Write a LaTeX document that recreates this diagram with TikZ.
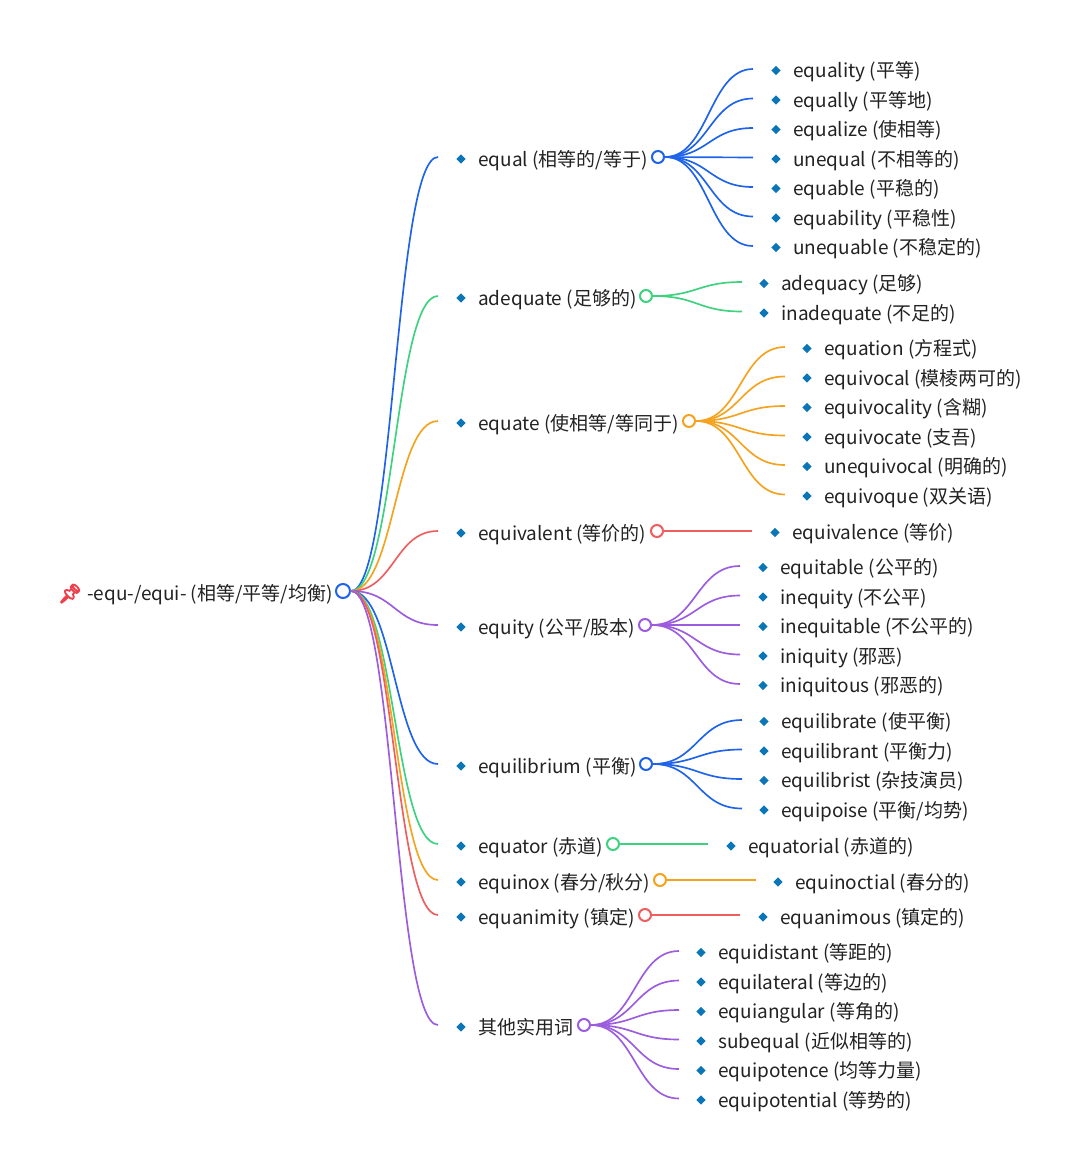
\documentclass[tikz,border=0pt]{standalone}
\usepackage{fontspec}
\setmainfont{Noto Sans CJK SC}
\newfontfamily\emojifont[FakeBold=6]{Noto Emoji}
\usetikzlibrary{calc,shapes.geometric}
\definecolor{linkblue}{HTML}{1E63E9}
\definecolor{linkgreen}{HTML}{3DD27F}
\definecolor{linkorange}{HTML}{F5A31F}
\definecolor{linkred}{HTML}{EE5E5E}
\definecolor{linkpurple}{HTML}{9C5CDF}
\definecolor{bulletblue}{HTML}{0A76B8}
\definecolor{wordgray}{HTML}{222222}
\definecolor{pinred}{HTML}{EE3F4C}
\tikzset{
  link/.style={line width=1.25pt,to path={let \p1=(\tikztostart), \p2=(\tikztotarget),
    \p3=($(\tikztostart)!0.5!(\tikztotarget)$) in
    .. controls (\x3,\y1) and (\x3,\y2) .. (\tikztotarget)}},
  hub/.style={circle,draw,fill=white,line width=1.5pt,minimum size=9pt,inner sep=0pt},
  bullet/.style={diamond,fill=bulletblue,minimum size=7pt,inner sep=0pt},
  word/.style={anchor=base west,inner sep=0pt,text=wordgray,font=\fontsize{14.25}{17}\selectfont}
}

\begin{document}
\begin{tikzpicture}[x=0.75pt,y=-0.75pt]
  \useasboundingbox (0,0) rectangle (1080,1168);
  % root
  \node[word,text=pinred,font=\emojifont\fontsize{14}{17}\selectfont] (pin) at (58,600) {📌};
  \node[word] (roottext) at (87,600) {-equ-/equi- (相等/平等/均衡)};
  \node[hub,draw=linkblue,minimum size=10.5pt] (root) at (343,591) {};
  % first level
  \foreach \name/\col/\ly/\cx/\word in {
    equal/linkblue/157/658/{equal (相等的/等于)},
    adequate/linkgreen/296/646/{adequate (足够的)},
    equate/linkorange/421/689/{equate (使相等/等同于)},
    equivalent/linkred/531/657/{equivalent (等价的)},
    equity/linkpurple/625/645/{equity (公平/股本)},
    equilibrium/linkblue/764/646/{equilibrium (平衡)},
    equator/linkgreen/844/613/{equator (赤道)},
    equinox/linkorange/880/660/{equinox (春分/秋分)},
    equanimity/linkred/915/645/{equanimity (镇定)},
    other/linkpurple/1025/584/{其他实用词}} {
    \coordinate (\name-end) at (438,\ly);
    \draw[link,\col] (root.east) to (\name-end);
    \node[bullet] (\name-bullet) at (461,\ly+2) {};
    \node[word] (\name-text) at (478,\ly+9) {\word};
    \node[hub,draw=\col] (\name) at (\cx,\ly) {};
  }
  % leaves of equal
  \foreach \i/\ly/\word in {1/69/{equality (平等)},2/98.5/{equally (平等地)},3/128/{equalize (使相等)},
    4/157.5/{unequal (不相等的)},5/187/{equable (平稳的)},6/216.5/{equability (平稳性)},7/246/{unequable (不稳定的)}} {
    \coordinate (equal-\i) at (753,\ly);
    \draw[link,linkblue] (equal.east) to (equal-\i);
    \node[bullet] (equal-\i-bullet) at (776,\ly+1.5) {};
    \node[word] (equal-\i-text) at (793,\ly+8.5) {\word};
  }
  % leaves of adequate
  \foreach \i/\ly/\word in {1/282/{adequacy (足够)},2/311.5/{inadequate (不足的)}} {
    \coordinate (adequate-\i) at (742,\ly);
    \draw[link,linkgreen] (adequate.east) to (adequate-\i);
    \node[bullet] (adequate-\i-bullet) at (764,\ly+1.5) {};
    \node[word] (adequate-\i-text) at (781,\ly+8.5) {\word};
  }
  % leaves of equate
  \foreach \i/\ly/\word in {1/347/{equation (方程式)},2/376.5/{equivocal (模棱两可的)},3/406/{equivocality (含糊)},
    4/435.5/{equivocate (支吾)},5/465/{unequivocal (明确的)},6/494.5/{equivoque (双关语)}} {
    \coordinate (equate-\i) at (785,\ly);
    \draw[link,linkorange] (equate.east) to (equate-\i);
    \node[bullet] (equate-\i-bullet) at (807,\ly+1.5) {};
    \node[word] (equate-\i-text) at (824,\ly+8.5) {\word};
  }
  % leaves of equivalent
  \coordinate (equivalent-1) at (752,531);
  \draw[link,linkred] (equivalent.east) to (equivalent-1);
  \node[bullet] (equivalent-1-bullet) at (775,532.5) {};
  \node[word] (equivalent-1-text) at (792,539.5) {equivalence (等价)};
  % leaves of equity
  \foreach \i/\ly/\word in {1/566/{equitable (公平的)},2/595.5/{inequity (不公平)},3/625/{inequitable (不公平的)},
    4/654.5/{iniquity (邪恶)},5/684/{iniquitous (邪恶的)}} {
    \coordinate (equity-\i) at (740,\ly);
    \draw[link,linkpurple] (equity.east) to (equity-\i);
    \node[bullet] (equity-\i-bullet) at (763,\ly+1.5) {};
    \node[word] (equity-\i-text) at (780,\ly+8.5) {\word};
  }
  % leaves of equilibrium
  \foreach \i/\ly/\word in {1/720/{equilibrate (使平衡)},2/749.5/{equilibrant (平衡力)},3/779/{equilibrist (杂技演员)},
    4/808.5/{equipoise (平衡/均势)}} {
    \coordinate (equilibrium-\i) at (742,\ly);
    \draw[link,linkblue] (equilibrium.east) to (equilibrium-\i);
    \node[bullet] (equilibrium-\i-bullet) at (764,\ly+1.5) {};
    \node[word] (equilibrium-\i-text) at (781,\ly+8.5) {\word};
  }
  % single leaves
  \coordinate (equator-1) at (708,844);
  \draw[link,linkgreen] (equator.east) to (equator-1);
  \node[bullet] (equator-1-bullet) at (731,846) {};
  \node[word] (equator-1-text) at (748,853) {equatorial (赤道的)};
  \coordinate (equinox-1) at (756,880);
  \draw[link,linkorange] (equinox.east) to (equinox-1);
  \node[bullet] (equinox-1-bullet) at (778,882) {};
  \node[word] (equinox-1-text) at (795,889) {equinoctial (春分的)};
  \coordinate (equanimity-1) at (740,915);
  \draw[link,linkred] (equanimity.east) to (equanimity-1);
  \node[bullet] (equanimity-1-bullet) at (763,917) {};
  \node[word] (equanimity-1-text) at (780,924) {equanimous (镇定的)};
  % leaves of other
  \foreach \i/\ly/\word in {1/951/{equidistant (等距的)},2/980.5/{equilateral (等边的)},3/1010/{equiangular (等角的)},
    4/1039.5/{subequal (近似相等的)},5/1069/{equipotence (均等力量)},6/1098.5/{equipotential (等势的)}} {
    \coordinate (other-\i) at (679,\ly);
    \draw[link,linkpurple] (other.east) to (other-\i);
    \node[bullet] (other-\i-bullet) at (701,\ly+1.5) {};
    \node[word] (other-\i-text) at (718,\ly+8.5) {\word};
  }
\end{tikzpicture}
\end{document}
